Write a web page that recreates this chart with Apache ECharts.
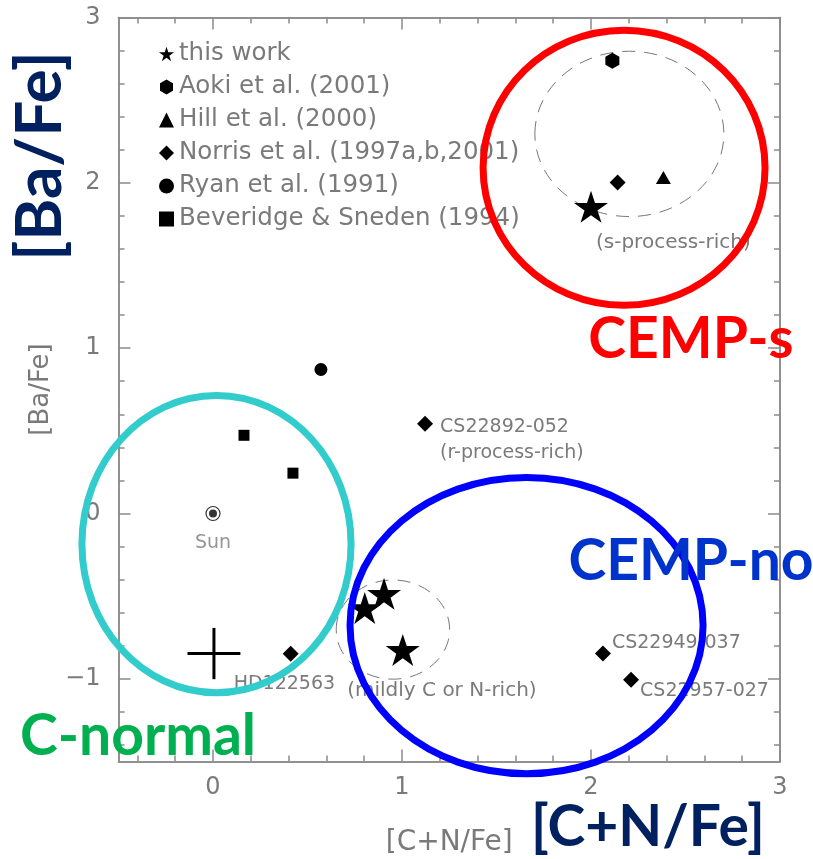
<!DOCTYPE html>
<html>
<head>
<meta charset="utf-8">
<script src="https://cdn.jsdelivr.net/npm/echarts@6/dist/echarts.min.js"></script>
<style>
  html, body { margin: 0; padding: 0; background: #fff; }
  #chart { width: 813px; height: 859px; }
</style>
</head>
<body>
<div id="chart"></div>
<script>
// ---- data: [C+N/Fe], [Ba/Fe] ----
const thisWork   = [[2.00, 1.855], [0.905, -0.486], [0.803, -0.571], [1.004, -0.825]];
const aoki2001   = [[2.113, 2.738]];
const hill2000   = [[2.383, 2.032]];
const norris     = [[2.141, 2.002], [1.122, 0.543], [0.411, -0.849], [2.063, -0.847], [2.212, -1.005]];
const norrisTags = ['', 'CS22892-052\n(r-process-rich)', 'HD122563', 'CS22949-037', 'CS22957-027'];
const ryan1991   = [[0.571, 0.871]];
const beveridge  = [[0.164, 0.473], [0.423, 0.244]];
const sun        = [[0, 0]];
// typical error: [x, y, errX, errY]
const errorCross = [[0.005, -0.847, 0.14, 0.155]];
// dashed group outlines: [cx, cy, r]
const groupCircles = [[2.203, 2.296, 0.5], [0.952, -0.702, 0.3]];
const groupTags    = ['(s-process-rich)', '(mildly C or N-rich)'];
// highlighted populations: [cx, cy, rx, ry]
const regions      = [[2.175, 2.091, 0.746, 0.832], [0.0185, -0.185, 0.712, 0.899], [1.659, -0.678, 0.934, 0.896]];
const regionColors = ['#ff0000', '#33cccc', '#0000ff'];

// ---- axis ticks ----
const xMajor = [0, 1, 2, 3];
const xMinor = [-0.4, -0.2, 0.2, 0.4, 0.6, 0.8, 1.2, 1.4, 1.6, 1.8, 2.2, 2.4, 2.6, 2.8];
const yMajor = [-1, 0, 1, 2, 3];
const yMinor = [-1.4, -1.2, -0.8, -0.6, -0.4, -0.2, 0.2, 0.4, 0.6, 0.8, 1.2, 1.4, 1.6, 1.8, 2.2, 2.4, 2.6, 2.8];

const STAR = 'path://M0,-1L0.2245,-0.309L0.951,-0.309L0.363,0.118L0.588,0.809L0,0.382L-0.588,0.809L-0.363,0.118L-0.951,-0.309L-0.2245,-0.309Z';
const HEX  = 'path://M0,-1L0.866,-0.5L0.866,0.5L0,1L-0.866,0.5L-0.866,-0.5Z';

const FRAME = '#8a8a8a';
const TXT = '#7a7a7a';
const FONT = 'DejaVu Sans';

const chart = echarts.init(document.getElementById('chart'), null, { renderer: 'canvas' });

function axisX(pos, major, withLabels) {
  return {
    type: 'value', position: pos, min: -0.5, max: 3,
    axisLine: { show: true, onZero: false, lineStyle: { color: FRAME, width: 1.5 } },
    axisTick: { show: true, inside: true, length: major ? 12 : 6, customValues: major ? xMajor : xMinor,
                lineStyle: { color: FRAME, width: 1.5 } },
    axisLabel: { show: withLabels, customValues: xMajor, margin: 14, color: TXT, fontSize: 24, fontFamily: FONT },
    splitLine: { show: false },
    name: withLabels ? '[C+N/Fe]' : '',
    nameLocation: 'middle', nameGap: 67,
    nameTextStyle: { color: TXT, fontSize: 28, fontFamily: FONT }
  };
}
function axisY(pos, major, withLabels) {
  return {
    type: 'value', position: pos, min: -1.5, max: 3,
    axisLine: { show: true, onZero: false, lineStyle: { color: FRAME, width: 1.5 } },
    axisTick: { show: true, inside: true, length: major ? 12 : 6, customValues: major ? yMajor : yMinor,
                lineStyle: { color: FRAME, width: 1.5 } },
    axisLabel: { show: withLabels, customValues: yMajor, margin: 18, color: TXT, fontSize: 24, fontFamily: FONT,
                 formatter: v => (v < 0 ? '\u2212' + Math.abs(v) : String(v)) },
    splitLine: { show: false },
    name: withLabels ? '[Ba/Fe]' : '',
    nameLocation: 'middle', nameGap: 63, nameRotate: 90,
    nameTextStyle: { color: TXT, fontSize: 26, fontFamily: FONT }
  };
}

// offsets of the star-name labels next to Norris et al. points
const norrisLabelPos = [null, [2, 16], [-70, 30], [-4, -10], [-4, 11]];

const norrisData = norris.map((p, i) => {
  const item = { value: p };
  if (norrisTags[i]) {
    item.label = {
      show: true, position: 'right', distance: 5, offset: norrisLabelPos[i],
      formatter: norrisTags[i], color: TXT, fontSize: 19, fontFamily: FONT, lineHeight: 26, align: 'left'
    };
  }
  return item;
});

const pointSeries = (name, data, symbol, size, extra) => Object.assign({
  name, type: 'scatter', data, symbol, symbolSize: size, z: 5,
  itemStyle: { color: '#000', opacity: 1 },
  emphasis: { disabled: true }
}, extra || {});

const option = {
  animation: false,
  backgroundColor: '#fff',
  grid: { left: 118.5, top: 17.5, right: 33, bottom: 97.5, containLabel: false, outerBoundsMode: 'none' },
  xAxis: [axisX('bottom', true, true), axisX('bottom', false, false), axisX('top', true, false), axisX('top', false, false)],
  yAxis: [axisY('left', true, true), axisY('left', false, false), axisY('right', true, false), axisY('right', false, false)],
  legend: {
    orient: 'vertical', left: 154, top: 36, itemWidth: 15, itemHeight: 15, itemGap: 7,
    selectedMode: false, z: 4,
    textStyle: { color: TXT, fontSize: 24.5, fontFamily: FONT, lineHeight: 26 },
    data: [
      { name: 'this work', icon: STAR },
      { name: 'Aoki et al. (2001)', icon: HEX },
      { name: 'Hill et al. (2000)', icon: 'triangle' },
      { name: 'Norris et al. (1997a,b,2001)', icon: 'diamond' },
      { name: 'Ryan et al. (1991)', icon: 'circle' },
      { name: 'Beveridge & Sneden (1994)', icon: 'rect' }
    ]
  },
  series: [
    pointSeries('Aoki et al. (2001)', aoki2001, HEX, [14, 16]),
    pointSeries('Hill et al. (2000)', hill2000, 'triangle', [15, 13]),
    pointSeries('Norris et al. (1997a,b,2001)', norrisData, 'diamond', [16, 16]),
    pointSeries('Ryan et al. (1991)', ryan1991, 'circle', 13),
    pointSeries('Beveridge & Sneden (1994)', beveridge, 'rect', 11),
    pointSeries('this work', thisWork, STAR, [34, 32], { z: 6 }),
    // the Sun: ring with a central dot
    {
      name: 'Sun', type: 'scatter', data: sun, symbol: 'circle', symbolSize: 14, z: 5,
      itemStyle: { color: '#fff', borderColor: '#000', borderWidth: 1.2 },
      label: { show: true, position: 'bottom', distance: 12, formatter: 'Sun', color: TXT, fontSize: 19, fontFamily: FONT },
      emphasis: { disabled: true }
    },
    {
      name: 'Sun dot', type: 'scatter', data: sun, symbol: 'circle', symbolSize: 8, z: 6,
      itemStyle: { color: '#000' }, emphasis: { disabled: true }
    },
    // typical measurement error
    {
      name: 'error', type: 'custom', data: errorCross, z: 5, clip: false,
      renderItem: (params, api) => {
        const x = api.value(0), y = api.value(1), ex = api.value(2), ey = api.value(3);
        const l = api.coord([x - ex, y]), r = api.coord([x + ex, y]);
        const t = api.coord([x, y + ey]), b = api.coord([x, y - ey]);
        const st = { stroke: '#000', lineWidth: 3 };
        return { type: 'group', children: [
          { type: 'line', shape: { x1: l[0], y1: l[1], x2: r[0], y2: r[1] }, style: st },
          { type: 'line', shape: { x1: t[0], y1: t[1], x2: b[0], y2: b[1] }, style: st }
        ] };
      }
    },
    // dashed outlines of the star groups
    {
      name: 'groups', type: 'custom', data: groupCircles, z: 3, clip: false,
      renderItem: (params, api) => {
        const c = api.coord([api.value(0), api.value(1)]);
        const s = api.size([api.value(2), api.value(2)]);
        const i = params.dataIndex;
        const tagOff = i === 0 ? [44, 26] : [49, 12];
        return { type: 'group', children: [
          { type: 'ellipse', shape: { cx: c[0], cy: c[1], rx: s[0], ry: s[1] },
            style: { fill: null, stroke: '#777', lineWidth: 1, lineDash: [13, 9] } },
          { type: 'text', x: c[0] + tagOff[0], y: c[1] + s[1] + tagOff[1],
            style: { text: groupTags[i], fill: TXT, font: '20px "DejaVu Sans"', align: 'center', verticalAlign: 'middle' } }
        ] };
      }
    },
    // highlighted populations
    {
      name: 'regions', type: 'custom', data: regions, z: 20, clip: false,
      renderItem: (params, api) => {
        const c = api.coord([api.value(0), api.value(1)]);
        const s = api.size([api.value(2), api.value(3)]);
        return { type: 'ellipse', shape: { cx: c[0], cy: c[1], rx: s[0], ry: s[1] },
                 style: { fill: null, stroke: regionColors[params.dataIndex], lineWidth: 7 } };
      }
    }
  ],
  graphic: [
    { type: 'text', x: 691, y: 340, z: 30, style: { text: 'CEMP-s', fill: '#ff0000', font: 'bold 57px Lato', align: 'center', verticalAlign: 'middle' } },
    { type: 'text', x: 691, y: 562, z: 30, style: { text: 'CEMP-no', fill: '#0033cc', font: 'bold 57px Lato', align: 'center', verticalAlign: 'middle' } },
    { type: 'text', x: 138, y: 737, z: 30, style: { text: 'C-normal', fill: '#00b050', font: 'bold 57px Lato', align: 'center', verticalAlign: 'middle' } },
    { type: 'text', x: 648, y: 828, z: 30, style: { text: '[C+N/Fe]', fill: '#002060', font: 'bold 57px Lato', align: 'center', verticalAlign: 'middle' } },
    { type: 'text', x: 40, y: 156, rotation: Math.PI / 2, z: 30, style: { text: '[Ba/Fe]', fill: '#002060', font: 'bold 64px Lato', align: 'center', verticalAlign: 'middle' } }
  ]
};

chart.setOption(option);
</script>
</body>
</html>
